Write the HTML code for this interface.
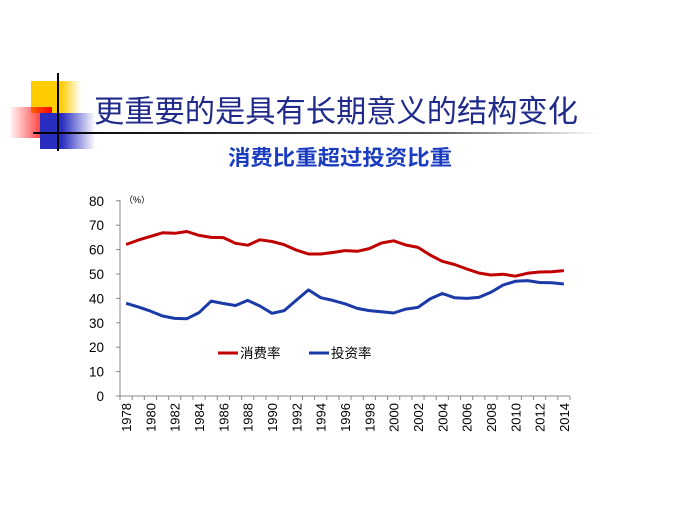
<!DOCTYPE html>
<html><head><meta charset="utf-8"><style>
body{margin:0;background:#fff;width:680px;height:510px;overflow:hidden}
svg{display:block}
text{font-family:"Liberation Sans","Noto Sans CJK SC",sans-serif}
</style></head><body>
<svg id="s" width="680" height="510" xmlns="http://www.w3.org/2000/svg">
<defs>
<linearGradient id="gy" x1="0" x2="1"><stop offset="0.6" stop-color="#ffcc00"/><stop offset="1" stop-color="#ffcc00" stop-opacity="0"/></linearGradient>
<linearGradient id="gr" x1="1" x2="0"><stop offset="0" stop-color="#ff0000"/><stop offset="1" stop-color="#ff0000" stop-opacity="0"/></linearGradient>
<linearGradient id="gb" x1="0" x2="1"><stop offset="0.4" stop-color="#2a2ec0"/><stop offset="1" stop-color="#2a2ec0" stop-opacity="0"/></linearGradient>
<linearGradient id="gl" x1="0" x2="1"><stop offset="0" stop-color="#000"/><stop offset="0.7" stop-color="#555"/><stop offset="1" stop-color="#fff"/></linearGradient>
</defs>
<rect x="31" y="81" width="50" height="32" fill="url(#gy)"/>
<rect x="9" y="107" width="43" height="31" fill="url(#gr)"/>
<rect x="40" y="113" width="55" height="36" fill="url(#gb)"/>
<rect x="33" y="132" width="567" height="2" fill="url(#gl)"/>
<rect x="57" y="73" width="2" height="78" fill="#000"/>
<text x="94" y="122" font-size="30.5" fill="#1f2a8a" textLength="484" lengthAdjust="spacingAndGlyphs">更重要的是具有长期意义的结构变化</text>
<text x="228" y="165" font-size="21" font-weight="bold" fill="#1a3cc0" textLength="224" lengthAdjust="spacingAndGlyphs">消费比重超过投资比重</text>
<g id="ch"></g>
</svg>
<script>
var c=[62.1,63.9,65.4,66.9,66.7,67.4,65.8,65.0,64.9,62.6,61.8,64.0,63.3,62.0,59.8,58.2,58.2,58.8,59.6,59.3,60.4,62.7,63.6,61.9,60.9,57.8,55.2,53.9,52.1,50.4,49.6,49.9,49.1,50.3,50.8,50.9,51.4];
var v=[38.0,36.5,34.8,32.8,31.8,31.7,34.2,38.9,37.9,37.1,39.2,36.9,33.9,35.0,39.3,43.5,40.3,39.2,37.8,35.9,35.0,34.5,34.0,35.6,36.3,39.8,42.0,40.3,40.0,40.4,42.5,45.5,47.0,47.3,46.5,46.4,45.9];
var x0=120,w=450/37,Y=function(d){return 396-d*2.44};
var h='';
h+='<line x1="120" y1="200" x2="120" y2="396" stroke="#888"/><line x1="120" y1="396" x2="570" y2="396" stroke="#888"/>';
for(var i=0;i<=8;i++){var y=Y(i*10);h+='<line x1="116" y1="'+y+'" x2="120" y2="'+y+'" stroke="#888"/><text x="104" y="'+(y+5)+'" font-size="13.5" text-anchor="end">'+(i*10)+'</text>';}
for(var i=0;i<=37;i++){var x=x0+i*w;h+='<line x1="'+x+'" y1="396" x2="'+x+'" y2="400" stroke="#888"/>';}
for(var i=0;i<37;i+=2){var x=x0+(i+0.5)*w;h+='<text transform="translate('+(x+5)+',403) rotate(-90)" font-size="13" text-anchor="end">'+(1978+i)+'</text>';}
function pl(d,col){return '<polyline fill="none" stroke="'+col+'" stroke-width="3" stroke-linejoin="round" points="'+d.map(function(a,i){return (x0+(i+0.5)*w).toFixed(1)+','+Y(a).toFixed(1)}).join(' ')+'"/>';}
h+=pl(c,'#c00000')+pl(v,'#1a3aa8');
h+='<text x="124" y="203" font-size="9">（%）</text>';
h+='<line x1="218" y1="353" x2="238" y2="353" stroke="#c00000" stroke-width="3"/><text x="240" y="358" font-size="13.5">消费率</text>';
h+='<line x1="309" y1="353" x2="329" y2="353" stroke="#1a3aa8" stroke-width="3"/><text x="331" y="358" font-size="13.5">投资率</text>';
document.getElementById('ch').innerHTML=h;
</script>
</body></html>
